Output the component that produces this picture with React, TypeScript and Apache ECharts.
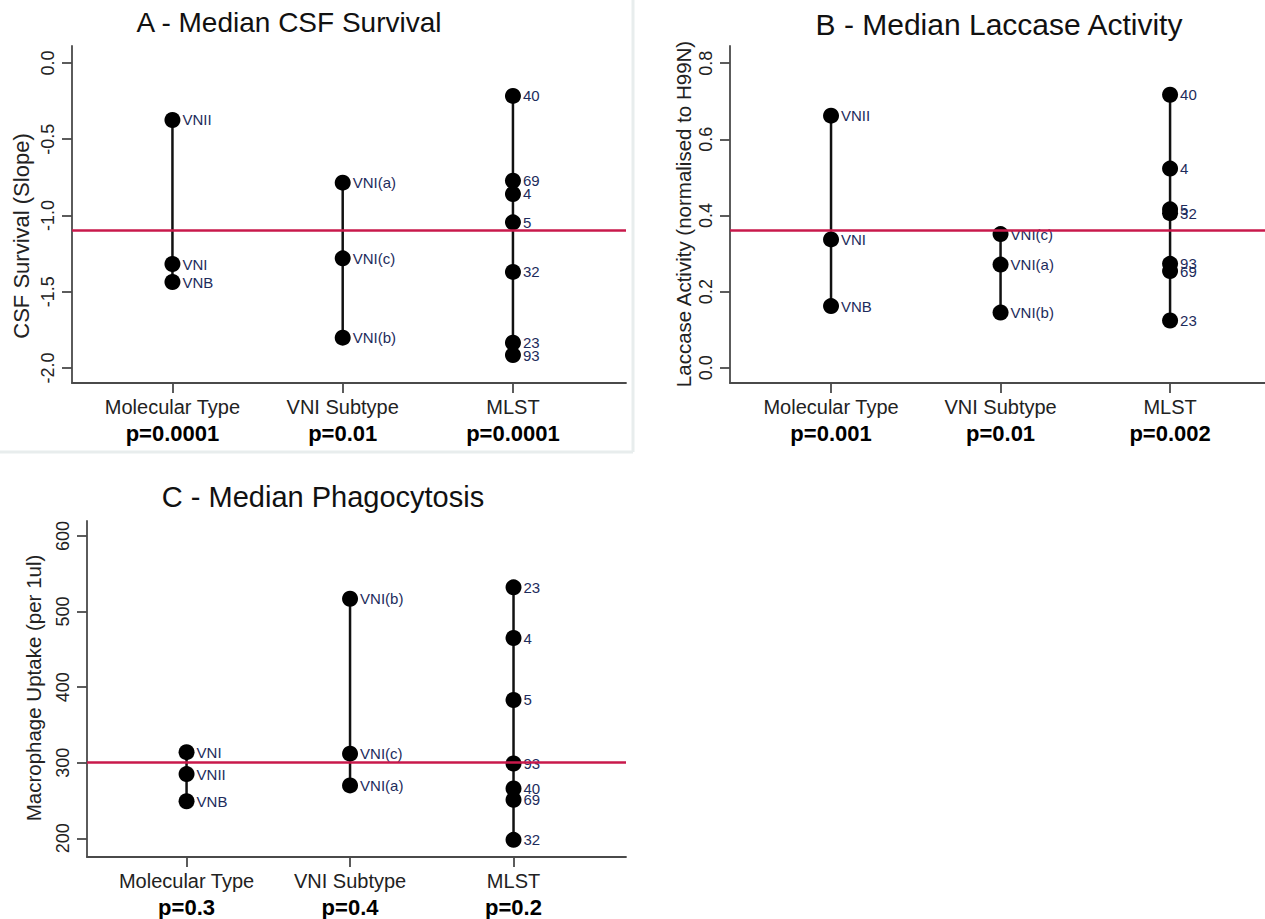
import React, { useEffect, useRef } from "react";
import * as echarts from "echarts";

// ---- categories / tick labels ----
const groups = ["Molecular Type", "VNI Subtype", "MLST"];
const pValuesA = ["p=0.0001", "p=0.01", "p=0.0001"];
const pValuesB = ["p=0.001", "p=0.01", "p=0.002"];
const pValuesC = ["p=0.3", "p=0.4", "p=0.2"];
const ticksA = [-2, -1.5, -1, -0.5, 0];
const ticksB = [0, 0.2, 0.4, 0.6, 0.8];
const ticksC = [200, 300, 400, 500, 600];

// ---- A - Median CSF Survival ----
const aMolLabels = ["VNII", "VNI", "VNB"];
const aMolValues = [-0.374, -1.318, -1.436];
const aSubLabels = ["VNI(a)", "VNI(c)", "VNI(b)"];
const aSubValues = [-0.785, -1.281, -1.801];
const aMlstLabels = ["40", "69", "4", "5", "32", "23", "93"];
const aMlstValues = [-0.216, -0.772, -0.859, -1.045, -1.37, -1.834, -1.915];
const aReference = -1.1;

// ---- B - Median Laccase Activity ----
const bMolLabels = ["VNII", "VNI", "VNB"];
const bMolValues = [0.662, 0.337, 0.162];
const bSubLabels = ["VNI(c)", "VNI(a)", "VNI(b)"];
const bSubValues = [0.351, 0.271, 0.145];
const bMlstLabels = ["40", "4", "5", "32", "93", "69", "23"];
const bMlstValues = [0.717, 0.523, 0.416, 0.406, 0.273, 0.254, 0.124];
const bReference = 0.358;

// ---- C - Median Phagocytosis ----
const cMolLabels = ["VNI", "VNII", "VNB"];
const cMolValues = [314, 285, 249];
const cSubLabels = ["VNI(b)", "VNI(c)", "VNI(a)"];
const cSubValues = [517, 312, 270];
const cMlstLabels = ["23", "4", "5", "93", "40", "69", "32"];
const cMlstValues = [532, 465, 383, 299, 266, 251, 198];
const cReference = 300;

const FONT = "Liberation Sans, Arial, Helvetica, sans-serif";
const AXIS_COLOR = "#4a4a4a";
const LABEL_COLOR = "#1d2c5c";
const RED = "#c8194b";

function groupSeries(idx: number, x: number, labels: string[], values: number[]) {
  return {
    type: "line",
    xAxisIndex: idx,
    yAxisIndex: idx,
    z: 3,
    symbol: "circle",
    symbolSize: 16,
    showSymbol: true,
    itemStyle: { color: "#000" },
    lineStyle: { color: "#111", width: 2.5 },
    label: {
      show: true,
      position: "right",
      distance: 2,
      formatter: "{b}",
      fontFamily: FONT,
      fontSize: 15,
      color: LABEL_COLOR,
    },
    labelLayout: { hideOverlap: false },
    emphasis: { disabled: true },
    data: values.map((v, i) => ({ name: labels[i], value: [x, v] })),
  };
}

function refSeries(idx: number, ref: number) {
  return {
    type: "line",
    xAxisIndex: idx,
    yAxisIndex: idx,
    z: 1,
    showSymbol: false,
    lineStyle: { opacity: 0 },
    data: [[1, ref]],
    markLine: {
      silent: true,
      symbol: ["none", "none"],
      label: { show: false },
      lineStyle: { color: RED, width: 2.5, type: "solid" },
      emphasis: { disabled: true },
      data: [{ yAxis: ref }],
    },
  };
}

function xAxisFor(idx: number, min: number, max: number, pvals: string[]) {
  return {
    type: "value",
    gridIndex: idx,
    min,
    max,
    axisLine: { show: true, onZero: false, lineStyle: { color: AXIS_COLOR, width: 1.8 } },
    axisTick: { show: true, length: 10, customValues: [1, 2, 3], lineStyle: { color: AXIS_COLOR, width: 1.8 } },
    splitLine: { show: false },
    axisLabel: {
      customValues: [1, 2, 3],
      margin: 11,
      formatter: (v: number) => `{a|${groups[Math.round(v) - 1]}}\n{b|${pvals[Math.round(v) - 1]}}`,
      rich: {
        a: { fontFamily: FONT, fontSize: 20, color: "#222", lineHeight: 26 },
        b: { fontFamily: FONT, fontSize: 22, fontWeight: "bold", color: "#000", lineHeight: 26 },
      },
    },
  };
}

function yAxisFor(idx: number, min: number, max: number, ticks: number[], fmt: (v: number) => string) {
  return {
    type: "value",
    gridIndex: idx,
    min,
    max,
    axisLine: { show: true, onZero: false, lineStyle: { color: AXIS_COLOR, width: 1.8 } },
    axisTick: { show: true, length: 10, customValues: ticks, lineStyle: { color: AXIS_COLOR, width: 1.8 } },
    splitLine: { show: false },
    axisLabel: {
      customValues: ticks,
      rotate: 90,
      margin: 15,
      fontFamily: FONT,
      fontSize: 18,
      color: "#222",
      formatter: fmt,
    },
  };
}

function axisTitle(text: string, x: number, y: number, size: number) {
  return {
    type: "text",
    x,
    y,
    rotation: Math.PI / 2,
    silent: true,
    style: { text, fontFamily: FONT, fontSize: size, fill: "#222", textAlign: "center", textVerticalAlign: "middle" },
  };
}

function title(text: string, x: number, y: number, size: number) {
  return {
    type: "text",
    x,
    y,
    silent: true,
    style: { text, fontFamily: FONT, fontSize: size, fill: "#111", textAlign: "center", textVerticalAlign: "middle" },
  };
}

export default function App() {
  const ref = useRef<HTMLDivElement>(null);
  useEffect(() => {
    if (!ref.current) return;
    const chart = echarts.init(ref.current, null, { renderer: "svg" });
    const fix1 = (v: number) => v.toFixed(1);
    const int0 = (v: number) => String(Math.round(v));
    chart.setOption({
      animation: false,
      backgroundColor: "#ffffff",
      grid: [
        { left: 72, top: 46, width: 554, height: 337 },
        { left: 730, top: 46, width: 535, height: 337 },
        { left: 87, top: 521, width: 539, height: 336 },
      ],
      xAxis: [
        xAxisFor(0, 0.41, 3.664, pValuesA),
        xAxisFor(1, 0.404, 3.56, pValuesB),
        xAxisFor(2, 0.391, 3.688, pValuesC),
      ],
      yAxis: [
        yAxisFor(0, -2.098, 0.111, ticksA, fix1),
        yAxisFor(1, -0.04, 0.845, ticksB, fix1),
        yAxisFor(2, 175.3, 619.8, ticksC, int0),
      ],
      graphic: [
        { type: "line", silent: true, shape: { x1: 633, y1: 0, x2: 633, y2: 452 }, style: { stroke: "#e8eded", lineWidth: 3 } },
        { type: "line", silent: true, shape: { x1: 0, y1: 452, x2: 633, y2: 452 }, style: { stroke: "#e8eded", lineWidth: 3 } },
        title("A - Median CSF Survival", 289, 22, 28),
        title("B - Median Laccase Activity", 999, 24, 30),
        title("C - Median Phagocytosis", 323, 497, 29),
        axisTitle("CSF Survival (Slope)", 21, 236, 22),
        axisTitle("Laccase Activity (normalised to H99N)", 683, 214, 20.5),
        axisTitle("Macrophage Uptake (per 1ul)", 33, 688, 20.5),
      ],
      series: [
        refSeries(0, aReference),
        groupSeries(0, 1, aMolLabels, aMolValues),
        groupSeries(0, 2, aSubLabels, aSubValues),
        groupSeries(0, 3, aMlstLabels, aMlstValues),
        refSeries(1, bReference),
        groupSeries(1, 1, bMolLabels, bMolValues),
        groupSeries(1, 2, bSubLabels, bSubValues),
        groupSeries(1, 3, bMlstLabels, bMlstValues),
        refSeries(2, cReference),
        groupSeries(2, 1, cMolLabels, cMolValues),
        groupSeries(2, 2, cSubLabels, cSubValues),
        groupSeries(2, 3, cMlstLabels, cMlstValues),
      ],
    });
    return () => chart.dispose();
  }, []);
  return (
    <div
      ref={ref}
      style={{ position: "absolute", left: 0, top: 0, width: 1265, height: 919, background: "#fff" }}
    />
  );
}
